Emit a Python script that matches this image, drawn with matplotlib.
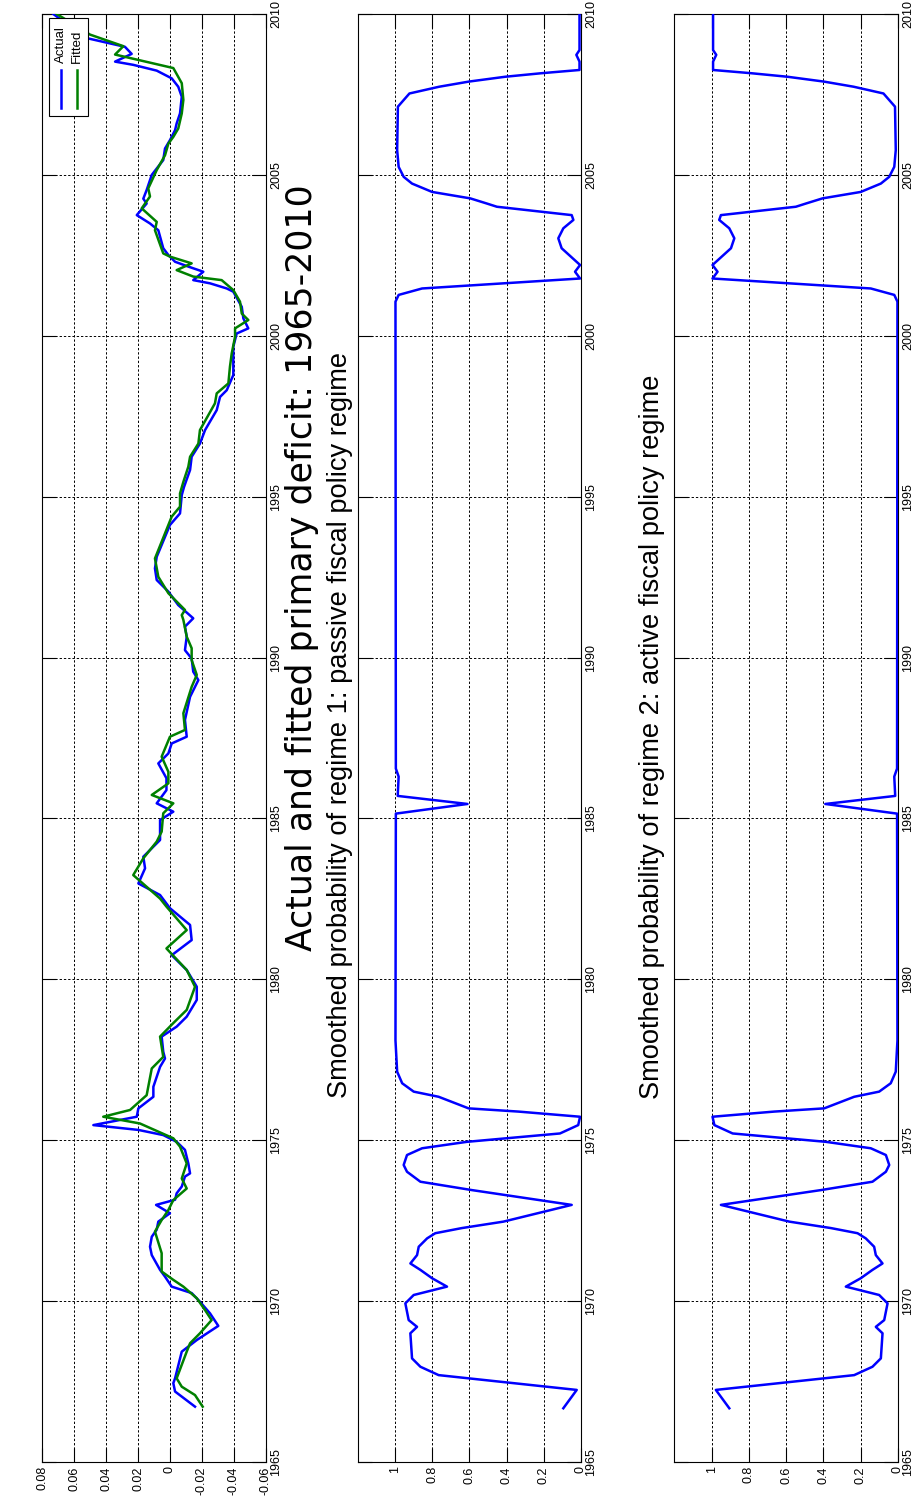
import matplotlib
matplotlib.use("Agg")
import matplotlib.pyplot as plt
from matplotlib.lines import Line2D
from matplotlib.patches import Rectangle

plt.rcParams['font.family'] = ['Liberation Sans', 'DejaVu Sans']

# ---------------- data ----------------
actual_years = [1966.72, 1967.19, 1967.45, 1967.60, 1968.43, 1968.79, 1969.23, 1969.62, 1969.98,
                1970.25, 1970.45, 1970.76, 1970.97, 1971.43, 1971.69, 1972.00, 1972.22, 1972.47,
                1972.73, 1972.99, 1973.15, 1973.35, 1973.56, 1973.87, 1973.97, 1974.28, 1974.70,
                1974.95, 1975.16, 1975.32, 1975.47, 1975.73, 1975.99, 1976.35, 1976.66, 1977.28,
                1977.54, 1977.75, 1978.22, 1978.53, 1978.84, 1979.36, 1979.77, 1980.29, 1980.75,
                1981.22, 1981.69, 1982.21, 1982.62, 1982.98, 1983.45, 1983.81, 1984.33, 1984.95,
                1985.21, 1985.47, 1985.88, 1986.25, 1986.71, 1987.02, 1987.33, 1987.54, 1988.06,
                1988.78, 1989.30, 1989.56, 1989.97, 1990.23, 1990.65, 1990.96, 1991.22, 1991.63,
                1992.05, 1992.41, 1992.77, 1993.13, 1993.50, 1994.12, 1994.48, 1995.05, 1995.30,
                1995.83, 1996.24, 1996.65, 1997.07, 1997.69, 1998.10, 1998.31, 1998.78, 1999.24,
                1999.66, 2000.07, 2000.23, 2000.54, 2000.90, 2001.37, 2001.47, 2001.63, 2001.73,
                2001.99, 2002.15, 2002.30, 2002.51, 2002.72, 2003.28, 2003.49, 2003.75, 2004.11,
                2004.26, 2004.53, 2005.00, 2005.20, 2005.46, 2005.82, 2006.08, 2006.39, 2006.60,
                2006.91, 2007.43, 2007.74, 2008.00, 2008.24, 2008.42, 2008.52, 2008.76, 2008.98,
                2009.24, 2009.60, 2010.00]
actual = [-0.0157, -0.0032, -0.0021, -0.0032, -0.0074, -0.0168, -0.0303, -0.0251, -0.0188,
          -0.0136, -0.0011, 0.0031, 0.0062, 0.0114, 0.0125, 0.0114, 0.0083, 0.0073,
          0.0000, 0.0087, -0.0032, -0.0042, -0.0074, -0.0094, -0.0126, -0.0115, -0.0094,
          -0.0042, 0.0042, 0.0198, 0.0480, 0.0208, 0.0198, 0.0104, 0.0104, 0.0062,
          0.0031, 0.0042, 0.0052, -0.0042, -0.0105, -0.0168, -0.0168, -0.0105, -0.0011,
          -0.0136, -0.0126, 0.0000, 0.0062, 0.0198, 0.0156, 0.0167, 0.0062, 0.0062,
          -0.0021, 0.0083, 0.0022, 0.0022, 0.0073, 0.0010, -0.0011, -0.0105, -0.0094,
          -0.0126, -0.0178, -0.0146, -0.0136, -0.0094, -0.0105, -0.0094, -0.0146, -0.0052,
          0.0010, 0.0083, 0.0094, 0.0083, 0.0052, 0.0000, -0.0063, -0.0074, -0.0088,
          -0.0126, -0.0136, -0.0188, -0.0220, -0.0293, -0.0314, -0.0356, -0.0397, -0.0397,
          -0.0397, -0.0418, -0.0491, -0.0460, -0.0450, -0.0397, -0.0356, -0.0251, -0.0146,
          -0.0209, -0.0115, -0.0032, 0.0010, 0.0042, 0.0073, 0.0125, 0.0208, 0.0146,
          0.0167, 0.0146, 0.0114, 0.0083, 0.0042, 0.0031, 0.0000, -0.0032, -0.0042,
          -0.0063, -0.0074, -0.0052, -0.0011, 0.0083, 0.0230, 0.0344, 0.0240, 0.0282,
          0.0512, 0.0620, 0.0731]

fitted_years = [1966.72, 1967.08, 1967.34, 1967.60, 1968.43, 1968.69, 1969.00, 1969.41, 1969.72,
                1970.09, 1970.45, 1970.66, 1970.92, 1971.49, 1972.16, 1972.52, 1972.83, 1973.14,
                1973.50, 1973.81, 1974.28, 1974.80, 1975.06, 1975.52, 1975.73, 1975.94, 1976.40,
                1977.23, 1977.59, 1978.22, 1978.64, 1979.05, 1979.77, 1980.29, 1980.96, 1981.53,
                1982.26, 1982.51, 1983.24, 1983.76, 1984.28, 1984.59, 1985.16, 1985.47, 1985.73,
                1986.09, 1986.45, 1986.92, 1987.54, 1987.75, 1988.27, 1989.09, 1989.46, 1989.92,
                1990.29, 1990.65, 1991.17, 1991.32, 1991.48, 1992.00, 1992.51, 1993.08, 1993.86,
                1994.38, 1994.69, 1995.10, 1995.46, 1995.93, 1996.24, 1996.65, 1997.07, 1997.90,
                1998.21, 1998.52, 1999.04, 1999.45, 1999.97, 2000.23, 2000.49, 2000.69, 2001.06,
                2001.42, 2001.73, 2001.84, 2002.04, 2002.25, 2002.46, 2002.56, 2003.28, 2003.54,
                2003.96, 2004.33, 2004.58, 2005.15, 2005.61, 2005.97, 2006.18, 2006.44, 2006.91,
                2007.33, 2007.85, 2008.32, 2008.74, 2009.00, 2009.36, 2009.70, 2010.00]
fitted = [-0.0205, -0.0157, -0.0074, -0.0042, -0.0105, -0.0126, -0.0188, -0.0261, -0.0220,
          -0.0168, -0.0084, -0.0021, 0.0052, 0.0052, 0.0094, 0.0052, 0.0010, -0.0021,
          -0.0105, -0.0074, -0.0105, -0.0063, -0.0021, 0.0188, 0.0418, 0.0250, 0.0146,
          0.0114, 0.0042, 0.0062, -0.0021, -0.0105, -0.0157, -0.0105, 0.0022, -0.0105,
          0.0022, 0.0062, 0.0230, 0.0167, 0.0083, 0.0052, 0.0042, -0.0021, 0.0114,
          0.0010, 0.0010, 0.0052, 0.0000, -0.0094, -0.0084, -0.0136, -0.0168, -0.0136,
          -0.0136, -0.0105, -0.0084, -0.0074, -0.0094, 0.0010, 0.0073, 0.0094, 0.0031,
          -0.0011, -0.0063, -0.0063, -0.0084, -0.0115, -0.0126, -0.0178, -0.0188, -0.0282,
          -0.0293, -0.0366, -0.0376, -0.0387, -0.0408, -0.0408, -0.0491, -0.0450, -0.0439,
          -0.0397, -0.0324, -0.0146, -0.0042, -0.0136, 0.0000, 0.0042, 0.0094, 0.0083,
          0.0177, 0.0125, 0.0136, 0.0083, 0.0031, 0.0010, -0.0021, -0.0052, -0.0074,
          -0.0084, -0.0074, -0.0021, 0.0344, 0.0292, 0.0501, 0.0610, 0.0710]

regime_years = [1966.67, 1967.24, 1967.70, 1967.96, 1968.22, 1969.00, 1969.20, 1969.41, 1969.93,
                1970.19, 1970.45, 1970.71, 1970.97, 1971.17, 1971.43, 1971.69, 1971.95, 1972.11,
                1972.27, 1972.47, 1972.99, 1973.45, 1973.71, 1974.02, 1974.23, 1974.54, 1974.75,
                1974.95, 1975.21, 1975.47, 1975.73, 1975.89, 1975.99, 1976.35, 1976.51, 1976.77,
                1977.13, 1978.10, 1985.15, 1985.45, 1985.70, 1986.30, 1986.55, 2001.06, 2001.27,
                2001.47, 2001.78, 2001.99, 2002.20, 2002.72, 2003.03, 2003.34, 2003.60, 2003.75,
                2004.01, 2004.11, 2004.27, 2004.47, 2004.73, 2004.94, 2005.25, 2005.77, 2007.12,
                2007.53, 2007.74, 2007.90, 2008.05, 2008.16, 2008.26, 2008.52, 2008.73, 2008.88,
                2010.00]
prob_regime1 = [0.095, 0.023, 0.765, 0.863, 0.908, 0.917, 0.881, 0.926, 0.944,
                0.899, 0.720, 0.800, 0.863, 0.917, 0.881, 0.872, 0.827, 0.783,
                0.640, 0.417, 0.050, 0.586, 0.863, 0.935, 0.953, 0.935, 0.854,
                0.613, 0.113, 0.015, 0.005, 0.336, 0.604, 0.765, 0.899, 0.961,
                0.988, 0.997, 0.995, 0.610, 0.985, 0.980, 0.995, 0.997, 0.980,
                0.854, 0.005, 0.032, 0.005, 0.104, 0.122, 0.095, 0.041, 0.050,
                0.452, 0.506, 0.595, 0.800, 0.908, 0.953, 0.980, 0.988, 0.984,
                0.922, 0.762, 0.602, 0.407, 0.212, 0.008, 0.008, 0.025, 0.008,
                0.008]
prob_regime2 = [0.905, 0.977, 0.235, 0.137, 0.092, 0.083, 0.119, 0.074, 0.056,
                0.101, 0.280, 0.200, 0.137, 0.083, 0.119, 0.128, 0.173, 0.217,
                0.360, 0.583, 0.950, 0.414, 0.137, 0.065, 0.047, 0.065, 0.146,
                0.387, 0.887, 0.985, 0.995, 0.664, 0.396, 0.235, 0.101, 0.039,
                0.012, 0.003, 0.005, 0.390, 0.015, 0.020, 0.005, 0.003, 0.020,
                0.146, 0.995, 0.968, 0.995, 0.896, 0.878, 0.905, 0.959, 0.950,
                0.548, 0.494, 0.405, 0.200, 0.092, 0.047, 0.020, 0.012, 0.016,
                0.078, 0.238, 0.398, 0.593, 0.788, 0.992, 0.992, 0.975, 0.992,
                0.992]

year_ticks = [1965, 1970, 1975, 1980, 1985, 1990, 1995, 2000, 2005, 2010]
deficit_ticks = [-0.06, -0.04, -0.02, 0, 0.02, 0.04, 0.06, 0.08]
deficit_labels = ['-0.06', '-0.04', '-0.02', '0', '0.02', '0.04', '0.06', '0.08']
prob_ticks = [0, 0.2, 0.4, 0.6, 0.8, 1]
prob_labels = ['0', '0.2', '0.4', '0.6', '0.8', '1']

titles = ['Actual and fitted primary deficit: 1965-2010',
          'Smoothed probability of regime 1: passive fiscal policy regime',
          'Smoothed probability of regime 2: active fiscal policy regime']
legend_labels = ['Actual', 'Fitted']

# ---------------- figure ----------------
W, H = 915, 1502
fig = plt.figure(figsize=(W / 100, H / 100), dpi=100)

def px_rect(x0, x1, ytop, ybot):
    return [x0 / W, (H - ybot) / H, (x1 - x0) / W, (ybot - ytop) / H]

axes = [fig.add_axes(px_rect(42.3, 265.7, 14, 1462)),
        fig.add_axes(px_rect(357.7, 581.0, 14, 1462)),
        fig.add_axes(px_rect(674.3, 898.0, 14, 1462))]

BLUE = '#0000ff'
GREEN = '#008000'
LW = 1.8

def style(ax, xticks, xlabels, xlim):
    ax.set_ylim(1965, 2010)
    ax.set_xlim(*xlim)
    ax.set_yticks(year_ticks)
    ax.set_yticklabels([str(y) for y in year_ticks], rotation=90, va='center')
    ax.set_xticks(xticks)
    ax.set_xticklabels(xlabels, rotation=90)
    ax.yaxis.set_ticks_position('both')
    ax.xaxis.set_ticks_position('both')
    ax.tick_params(axis='y', direction='in', length=10, width=0.8, labelleft=False,
                   labelright=True, labelsize=9, pad=3, color='black')
    ax.tick_params(axis='x', direction='in', length=10, width=0.8, labelbottom=True,
                   labeltop=False, labelsize=9, pad=3, color='black')
    ax.grid(True, color='black', linestyle=(0, (2.4, 2.0)), linewidth=0.7)
    for sp in ax.spines.values():
        sp.set_color('black')
        sp.set_linewidth(0.8)
    ax.set_axisbelow(False)

ax1, ax2, ax3 = axes
ax1.plot(actual, actual_years, color=BLUE, lw=LW, zorder=3)
ax1.plot(fitted, fitted_years, color=GREEN, lw=LW, zorder=3)
style(ax1, deficit_ticks, deficit_labels, (0.08, -0.06))

ax2.plot(prob_regime1, regime_years, color=BLUE, lw=LW, zorder=3)
style(ax2, prob_ticks, prob_labels, (1.2, 0))

ax3.plot(prob_regime2, regime_years, color=BLUE, lw=LW, zorder=3)
style(ax3, prob_ticks, prob_labels, (1.2, 0))

# legend (rotated, drawn manually in axes fraction coordinates)
def fx(x):
    return (x - 42.3) / 223.4
def fy(y):
    return (1462 - y) / 1448.0

ax1.add_patch(Rectangle((fx(49.3), fy(116)), fx(88.3) - fx(49.3), fy(18.3) - fy(116),
                        transform=ax1.transAxes, facecolor='white', edgecolor='black',
                        lw=0.8, zorder=5))
for xc, col, lab in [(60.5, BLUE, legend_labels[0]), (76.5, GREEN, legend_labels[1])]:
    ax1.add_line(Line2D([fx(xc), fx(xc)], [fy(108), fy(70)], transform=ax1.transAxes,
                        color=col, lw=LW, zorder=6))
    ax1.text(fx(xc), fy(63), lab, transform=ax1.transAxes, rotation=90,
             rotation_mode='anchor', ha='left', va='center', fontsize=9.5, zorder=6)

# titles
fig.text(302 / W, (H - 568) / H, titles[0], rotation=90, ha='center', va='center',
         fontsize=25, family=['DejaVu Sans'])
for (xc, yc), t in zip([(340, 725), (652, 737)], titles[1:]):
    fig.text(xc / W, (H - yc) / H, t, rotation=90, ha='center', va='center', fontsize=19.6)

fig.savefig('out.png', dpi=100)
